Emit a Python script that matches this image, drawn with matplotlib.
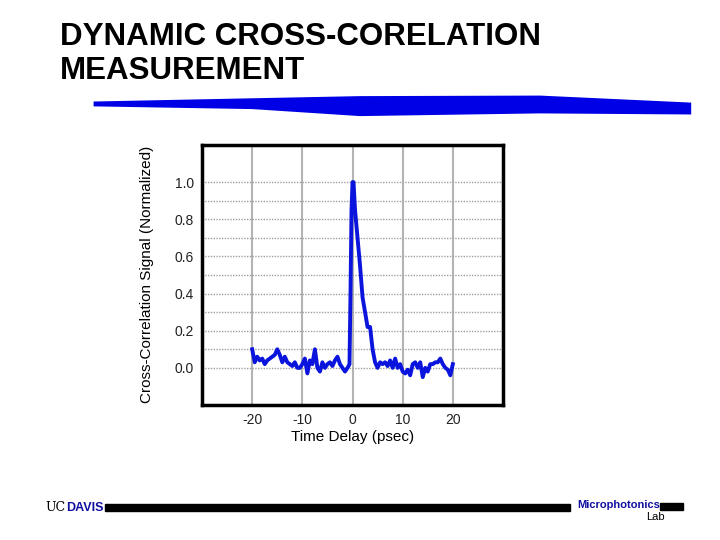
import matplotlib.pyplot as plt
from matplotlib.patches import Polygon

# time delay (psec) and normalized cross-correlation signal
delay = [-20, -19.5, -19, -18.5, -18, -17.5, -17, -16.5, -16, -15.5, -15, -14.5, -14,
         -13.5, -13, -12.5, -12, -11.5, -11, -10.5, -10, -9.5, -9, -8.5, -8, -7.5,
         -7, -6.5, -6, -5.5, -5, -4.5, -4, -3.5, -3, -2.5, -2, -1.5, -1, -0.6,
         -0.4, -0.2, 0, 0.2, 0.5, 1.0, 1.5, 2.0, 2.5, 3.0, 3.5, 4.0, 4.5, 5.0,
         5.5, 6, 6.5, 7, 7.5, 8, 8.5, 9, 9.5, 10, 10.5, 11, 11.5, 12, 12.5, 13,
         13.5, 14, 14.5, 15, 15.5, 16, 16.5, 17, 17.5, 18, 18.5, 19, 19.5, 20]
signal = [0.10, 0.03, 0.06, 0.04, 0.05, 0.02, 0.04, 0.05, 0.06, 0.07, 0.10, 0.07, 0.03,
          0.06, 0.03, 0.02, 0.01, 0.03, 0.00, 0.00, 0.02, 0.05, -0.03, 0.04, 0.02, 0.10,
          0.00, -0.02, 0.03, 0.00, 0.02, 0.03, 0.01, 0.04, 0.06, 0.02, 0.00, -0.02, 0.00, 0.02,
          0.40, 0.85, 1.00, 1.00, 0.85, 0.70, 0.55, 0.38, 0.30, 0.22, 0.22, 0.10, 0.03, 0.00,
          0.03, 0.02, 0.03, 0.01, 0.04, 0.00, 0.05, 0.00, 0.02, -0.02, -0.03, -0.01, -0.04, 0.02, 0.03, 0.00,
          0.03, -0.05, 0.00, -0.02, 0.02, 0.02, 0.03, 0.03, 0.05, 0.02, 0.00, -0.01, -0.04, 0.02]

fig = plt.figure(figsize=(7.2, 5.4), dpi=100)
plt.rcParams['font.family'] = ['Liberation Sans', 'DejaVu Sans']

# title and blue brush stroke
fig.text(0.083, 0.9, 'DYNAMIC CROSS-CORELATION\nMEASUREMENT', fontsize=22.5, fontweight='bold',
         va='center', ha='left', linespacing=1.15)
stroke = [(0.13, 0.812), (0.35, 0.818), (0.5, 0.822), (0.75, 0.823), (0.96, 0.810),
          (0.96, 0.788), (0.75, 0.790), (0.5, 0.785), (0.35, 0.798), (0.13, 0.803)]
fig.patches.append(Polygon(stroke, closed=True, transform=fig.transFigure,
                           facecolor='#0000e6', edgecolor='none'))

ax = fig.add_axes([0.2806, 0.25, 0.418, 0.4815])
ax.plot(delay, signal, color='#0a14dc', lw=2.8)
ax.set_xlim(-30, 30)
ax.set_ylim(-0.2, 1.2)
for x in [-20, -10, 0, 10, 20]:
    ax.axvline(x, color='#b4b4b4', lw=1.5, zorder=0)
for i in range(11):
    ax.axhline(i / 10, color='#a0a0a0', lw=1, ls=(0, (1, 1)), zorder=0)
ax.set_xticks([-20, -10, 0, 10, 20])
ax.set_xticklabels(['-20', '-10', '0', '10', '20'])
ax.set_yticks([0, 0.2, 0.4, 0.6, 0.8, 1.0])
ax.set_yticklabels(['0.0', '0.2', '0.4', '0.6', '0.8', '1.0'])
ax.tick_params(length=0, labelsize=10, pad=6, labelcolor='#222222')
for s in ax.spines.values():
    s.set_linewidth(2.5)
ax.set_xlabel('Time Delay (psec)', fontsize=11, labelpad=2)
fig.text(0.204, 0.492, 'Cross-Correlation Signal (Normalized)', rotation=90,
         fontsize=11, ha='center', va='center')

# footer
fig.text(0.063, 0.06, 'UC', fontsize=9, family='DejaVu Serif', va='center')
fig.text(0.092, 0.06, 'DAVIS', fontsize=9, fontweight='bold', color='#1010a0', va='center')
fig.add_artist(plt.Rectangle((0.146, 0.054), 0.646, 0.013, transform=fig.transFigure,
                             color='black'))
fig.text(0.802, 0.064, 'Microphotonics', fontsize=8, fontweight='bold', color='#1010a0',
         va='center', stretch='condensed')
fig.add_artist(plt.Rectangle((0.917, 0.055), 0.032, 0.013, transform=fig.transFigure,
                             color='black'))
fig.text(0.898, 0.042, 'Lab', fontsize=8, va='center')

fig.savefig('out.png', dpi=100)
